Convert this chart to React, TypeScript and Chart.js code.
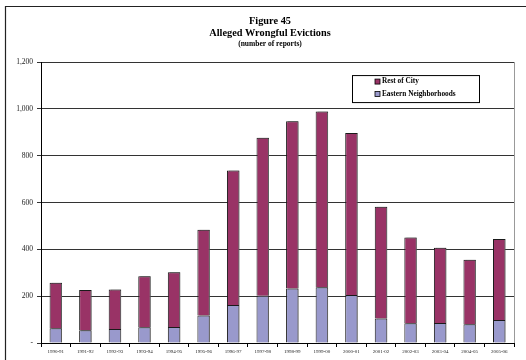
import React, { useEffect, useRef } from 'react';
import { Chart, registerables } from 'chart.js';

Chart.register(...registerables);

const categories = [
  '1990-91', '1991-92', '1992-93', '1993-94', '1994-95', '1995-96', '1996-97', '1997-98',
  '1998-99', '1999-00', '2000-01', '2001-02', '2002-03', '2003-04', '2004-05', '2005-06',
];
const easternNeighborhoods = [63, 54, 60, 67, 68, 118, 162, 202, 233, 238, 205, 105, 84, 85, 80, 98];
const restOfCity = [194, 172, 168, 218, 234, 366, 575, 675, 714, 751, 692, 477, 367, 322, 276, 346];
const yTicks = [0, 200, 400, 600, 800, 1000, 1200];
const titleLines = ['Figure 45', 'Alleged Wrongful Evictions'];
const subtitleText = '(number of reports)';
const seriesLabels = ['Eastern Neighborhoods', 'Rest of City'];
const seriesColors = ['#9999CC', '#993366'];

const SERIF = "'Liberation Serif', 'Times New Roman', Times, serif";

const framePlugin = {
  id: 'pageFrame',
  afterLayout(chart: any) {
    // widen the clip region of the y-axis labels so they are not cut off
    const y = chart.scales.y;
    if (y) y.left = 4;
  },
  beforeDraw(chart: any) {
    const ctx = chart.ctx;
    ctx.save();
    ctx.strokeStyle = '#222';
    ctx.lineWidth = 1.2;
    ctx.beginPath();
    ctx.moveTo(5.5, chart.height);
    ctx.lineTo(5.5, 6.5);
    ctx.lineTo(chart.width, 6.5);
    ctx.stroke();
    ctx.restore();
  },
  afterDraw(chart: any) {
    const ctx = chart.ctx;
    const a = chart.chartArea;
    ctx.save();
    ctx.strokeStyle = '#999';
    ctx.lineWidth = 1;
    ctx.beginPath();
    ctx.moveTo(Math.round(a.right) + 0.5, a.top);
    ctx.lineTo(Math.round(a.right) + 0.5, a.bottom);
    ctx.stroke();
    ctx.restore();
  },
};

const shadowPlugin = {
  id: 'barShadow',
  beforeDatasetsDraw(chart: any) {
    const ctx = chart.ctx;
    ctx.save();
    ctx.shadowColor = 'rgba(110,110,110,0.8)';
    ctx.shadowOffsetX = 2;
    ctx.shadowOffsetY = 0;
    ctx.shadowBlur = 0;
  },
  afterDatasetsDraw(chart: any) {
    chart.ctx.restore();
  },
};

const boxLegendPlugin = {
  id: 'boxLegend',
  afterDraw(chart: any) {
    const ctx = chart.ctx;
    const a = chart.chartArea;
    const left = a.left + 311;
    const top = a.top + 13;
    const w = 127;
    const h = 27;
    ctx.save();
    ctx.fillStyle = '#fff';
    ctx.fillRect(left, top, w, h);
    ctx.strokeStyle = '#000';
    ctx.lineWidth = 1;
    ctx.strokeRect(left + 0.5, top + 0.5, w, h);
    const ds = chart.data.datasets.slice().reverse();
    ds.forEach((d: any, i: number) => {
      const cy = top + 6.5 + i * 12.5;
      ctx.fillStyle = d.backgroundColor;
      ctx.fillRect(left + 23, cy - 2.5, 5, 5);
      ctx.strokeStyle = '#000';
      ctx.lineWidth = 0.8;
      ctx.strokeRect(left + 23, cy - 2.5, 5, 5);
      ctx.fillStyle = '#000';
      ctx.font = `bold 7.3px ${SERIF}`;
      ctx.textBaseline = 'middle';
      ctx.textAlign = 'left';
      ctx.fillText(d.label, left + 30, cy);
    });
    ctx.restore();
  },
};

export default function App() {
  const canvasRef = useRef<HTMLCanvasElement | null>(null);

  useEffect(() => {
    const canvas = canvasRef.current;
    if (!canvas) return;
    const chart = new Chart(canvas, {
      type: 'bar',
      data: {
        labels: categories,
        datasets: [
          {
            label: seriesLabels[0],
            data: easternNeighborhoods,
            backgroundColor: seriesColors[0],
            borderColor: '#1a1a1a',
            borderWidth: 1,
            categoryPercentage: 1,
            barPercentage: 0.42,
          },
          {
            label: seriesLabels[1],
            data: restOfCity,
            backgroundColor: seriesColors[1],
            borderColor: '#1a1a1a',
            borderWidth: 1,
            categoryPercentage: 1,
            barPercentage: 0.42,
          },
        ],
      },
      options: {
        responsive: false,
        animation: false,
        devicePixelRatio: 1,
        layout: { padding: { left: 26, right: 12, top: 0, bottom: 0 } },
        plugins: {
          legend: { display: false },
          tooltip: { enabled: false },
          title: {
            display: true,
            text: titleLines,
            color: '#000',
            font: { family: SERIF, size: 10.3, weight: 'bold', lineHeight: 1.12 },
            padding: { top: 16, bottom: 0 },
          },
          subtitle: {
            display: true,
            text: subtitleText,
            color: '#000',
            font: { family: SERIF, size: 7.5, weight: 'bold', lineHeight: 1.2 },
            padding: { top: 0, bottom: 14 },
          },
        },
        scales: {
          x: {
            stacked: true,
            grid: {
              offset: true,
              drawOnChartArea: false,
              drawTicks: true,
              tickLength: 4,
              color: '#000',
              lineWidth: 1,
            },
            border: { display: true, color: '#000', width: 1 },
            ticks: {
              color: '#222',
              font: { family: SERIF, size: 5 },
              padding: 2,
              autoSkip: false,
              maxRotation: 0,
              minRotation: 0,
            },
            afterFit: (s: any) => {
              s.height = 17;
            },
          },
          y: {
            stacked: true,
            min: yTicks[0],
            max: yTicks[yTicks.length - 1],
            afterBuildTicks: (s: any) => {
              s.ticks = yTicks.map((v) => ({ value: v }));
            },
            ticks: {
              color: '#222',
              font: { family: SERIF, size: 7.5 },
              padding: 4,
              callback: (v: any) => (Number(v) === 0 ? '-' : Number(v).toLocaleString('en-US')),
            },
            grid: { color: '#333', lineWidth: 1, tickLength: 4, drawTicks: true },
            border: { display: true, color: '#000', width: 1 },
            afterFit: (s: any) => {
              s.width = 15;
            },
          },
        },
      },
      plugins: [framePlugin, shadowPlugin, boxLegendPlugin],
    } as any);
    return () => chart.destroy();
  }, []);

  return (
    <div style={{ position: 'absolute', left: 0, top: 0, width: 526, height: 360, background: '#fff' }}>
      <canvas ref={canvasRef} width={526} height={360} style={{ display: 'block' }} />
    </div>
  );
}
